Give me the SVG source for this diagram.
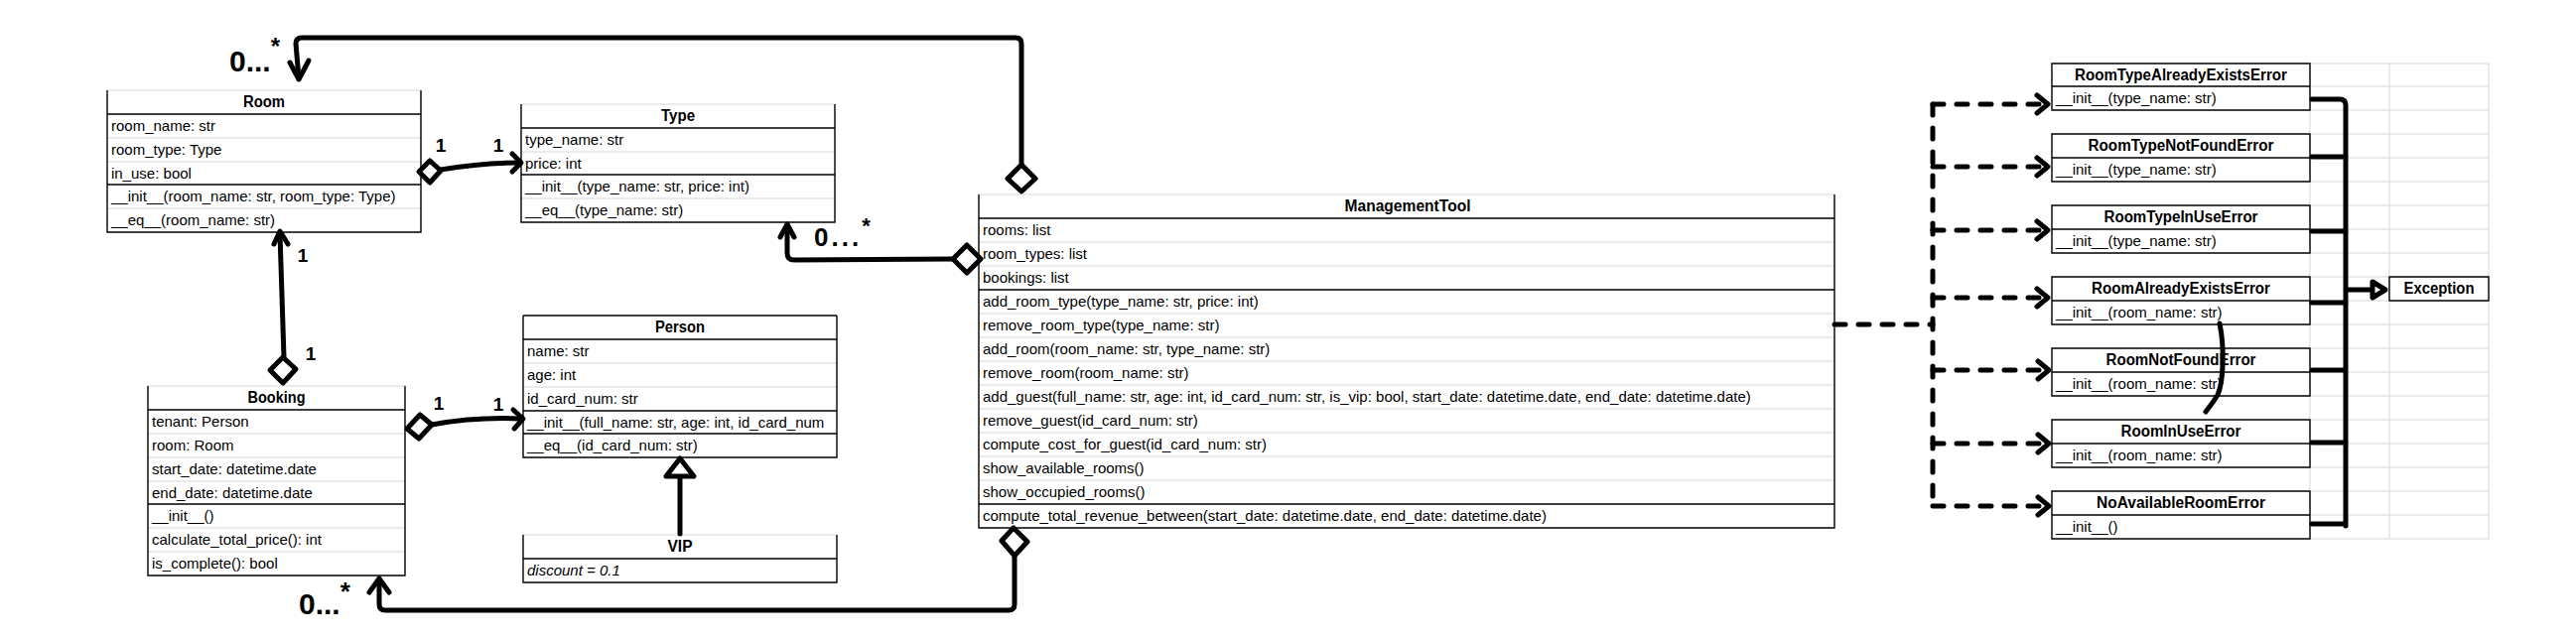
<svg xmlns="http://www.w3.org/2000/svg" width="2595" height="645" viewBox="0 0 2595 645">
<defs>
<style>
.t{font-family:"Liberation Sans",Arial,sans-serif;font-size:15px;fill:#000}
.h{font-family:"Liberation Sans",Arial,sans-serif;font-size:16px;font-weight:bold;text-anchor:middle;fill:#000}
.i{font-style:italic}
.g{stroke:#d6d6d6;stroke-width:1;fill:none}
.k{stroke:#000;stroke-width:1.4;fill:none}
.c{fill:none;stroke:#000;stroke-width:5;stroke-linecap:round;stroke-linejoin:round}
.d{stroke-dasharray:11 13}
.dm{fill:#fff;stroke:#000;stroke-width:5;stroke-linejoin:round}
.hw{font-family:"Liberation Sans",Arial,sans-serif;font-weight:bold;fill:#000}
</style>
<clipPath id="cpP"><rect x="527" y="414" width="316" height="23"/></clipPath>
</defs>
<rect width="2595" height="645" fill="#fff"/>

<g id="grid">
<path class="g" d="M2327,64V543M2407,64V543M2507,64V543M2327,64H2507M2327,87H2507M2327,111H2507M2327,135H2507M2327,159H2507M2327,183H2507M2327,207H2507M2327,231H2507M2327,255H2507M2327,279H2507M2327,303H2507M2327,327H2507M2327,351H2507M2327,375H2507M2327,399H2507M2327,423H2507M2327,447H2507M2327,471H2507M2327,495H2507M2327,519H2507M2327,543H2507"/>
</g>

<g id="room">
<rect x="108" y="91" width="316" height="143" fill="#fff"/>
<path class="g" d="M108,91H424M108,139H424M108,163H424M108,210H424"/>
<path class="k" d="M108,115H424M108,186H424M108,91V234H424V91"/>
<text class="h" x="266" y="108" textLength="42" lengthAdjust="spacingAndGlyphs">Room</text>
<text class="t" x="112" y="132">room_name: str</text>
<text class="t" x="112" y="156">room_type: Type</text>
<text class="t" x="112" y="180">in_use: bool</text>
<text class="t" x="112" y="203">__init__(room_name: str, room_type: Type)</text>
<text class="t" x="112" y="227">__eq__(room_name: str)</text>
</g>

<g id="type">
<rect x="525" y="105" width="316" height="119" fill="#fff"/>
<path class="g" d="M525,105H841M525,153H841M525,200H841"/>
<path class="k" d="M525,129H841M525,176H841M525,105V224H841V105"/>
<text class="h" x="683" y="122" textLength="34" lengthAdjust="spacingAndGlyphs">Type</text>
<text class="t" x="529" y="146">type_name: str</text>
<text class="t" x="529" y="170">price: int</text>
<text class="t" x="529" y="193">__init__(type_name: str, price: int)</text>
<text class="t" x="529" y="217">__eq__(type_name: str)</text>
</g>

<g id="person">
<rect x="527" y="318" width="316" height="143" fill="#fff"/>
<path class="g" d="M527,366H843M527,390H843"/>
<path class="k" d="M527,318H843M527,342H843M527,414H843M527,437H843M527,318V461H843V318"/>
<text class="h" x="685" y="335" textLength="50" lengthAdjust="spacingAndGlyphs">Person</text>
<text class="t" x="531" y="359">name: str</text>
<text class="t" x="531" y="383">age: int</text>
<text class="t" x="531" y="407">id_card_num: str</text>
<text class="t" x="531" y="431" clip-path="url(#cpP)">__init__(full_name: str, age: int, id_card_num</text>
<text class="t" x="531" y="454">__eq__(id_card_num: str)</text>
</g>

<g id="vip">
<rect x="527" y="539" width="316" height="48" fill="#fff"/>
<path class="g" d="M527,539H843"/>
<path class="k" d="M527,563H843M527,539V587H843V539"/>
<text class="h" x="685" y="556" textLength="25" lengthAdjust="spacingAndGlyphs">VIP</text>
<text class="t i" x="531" y="580">discount = 0.1</text>
</g>

<g id="booking">
<rect x="149" y="389" width="259" height="191" fill="#fff"/>
<path class="g" d="M149,389H408M149,437H408M149,461H408M149,485H408M149,532H408M149,556H408"/>
<path class="k" d="M149,413H408M149,508H408M149,389V580H408V389"/>
<text class="h" x="278.5" y="406" textLength="58" lengthAdjust="spacingAndGlyphs">Booking</text>
<text class="t" x="153" y="430">tenant: Person</text>
<text class="t" x="153" y="454">room: Room</text>
<text class="t" x="153" y="478">start_date: datetime.date</text>
<text class="t" x="153" y="502">end_date: datetime.date</text>
<text class="t" x="153" y="525">__init__()</text>
<text class="t" x="153" y="549">calculate_total_price(): int</text>
<text class="t" x="153" y="573">is_complete(): bool</text>
</g>

<g id="managementtool">
<rect x="986" y="196" width="862" height="336" fill="#fff"/>
<path class="g" d="M986,196H1848M986,244H1848M986,268H1848M986,316H1848M986,340H1848M986,364H1848M986,388H1848M986,412H1848M986,436H1848M986,460H1848M986,484H1848"/>
<path class="k" d="M986,220H1848M986,292H1848M986,508H1848M986,196V532H1848V196"/>
<text class="h" x="1418" y="213" textLength="127" lengthAdjust="spacingAndGlyphs">ManagementTool</text>
<text class="t" x="990" y="237">rooms: list</text>
<text class="t" x="990" y="261">room_types: list</text>
<text class="t" x="990" y="285">bookings: list</text>
<text class="t" x="990" y="309">add_room_type(type_name: str, price: int)</text>
<text class="t" x="990" y="333">remove_room_type(type_name: str)</text>
<text class="t" x="990" y="357">add_room(room_name: str, type_name: str)</text>
<text class="t" x="990" y="381">remove_room(room_name: str)</text>
<text class="t" x="990" y="405">add_guest(full_name: str, age: int, id_card_num: str, is_vip: bool, start_date: datetime.date, end_date: datetime.date)</text>
<text class="t" x="990" y="429">remove_guest(id_card_num: str)</text>
<text class="t" x="990" y="453">compute_cost_for_guest(id_card_num: str)</text>
<text class="t" x="990" y="477">show_available_rooms()</text>
<text class="t" x="990" y="501">show_occupied_rooms()</text>
<text class="t" x="990" y="525">compute_total_revenue_between(start_date: datetime.date, end_date: datetime.date)</text>
</g>

<g id="roomtypealreadyexistserror">
<rect x="2067" y="64" width="260" height="47" fill="#fff"/>
<path class="k" d="M2067,64H2327V111H2067ZM2067,87H2327"/>
<text class="h" x="2197" y="81" textLength="214" lengthAdjust="spacingAndGlyphs">RoomTypeAlreadyExistsError</text>
<text class="t" x="2071" y="104">__init__(type_name: str)</text>
</g>
<g id="roomtypenotfounderror">
<rect x="2067" y="135" width="260" height="48" fill="#fff"/>
<path class="k" d="M2067,135H2327V183H2067ZM2067,159H2327"/>
<text class="h" x="2197" y="152" textLength="187" lengthAdjust="spacingAndGlyphs">RoomTypeNotFoundError</text>
<text class="t" x="2071" y="176">__init__(type_name: str)</text>
</g>
<g id="roomtypeinuseerror">
<rect x="2067" y="207" width="260" height="48" fill="#fff"/>
<path class="k" d="M2067,207H2327V255H2067ZM2067,231H2327"/>
<text class="h" x="2197" y="224" textLength="155" lengthAdjust="spacingAndGlyphs">RoomTypeInUseError</text>
<text class="t" x="2071" y="248">__init__(type_name: str)</text>
</g>
<g id="roomalreadyexistserror">
<rect x="2067" y="279" width="260" height="48" fill="#fff"/>
<path class="k" d="M2067,279H2327V327H2067ZM2067,303H2327"/>
<text class="h" x="2197" y="296" textLength="180" lengthAdjust="spacingAndGlyphs">RoomAlreadyExistsError</text>
<text class="t" x="2071" y="320">__init__(room_name: str)</text>
</g>
<g id="roomnotfounderror">
<rect x="2067" y="351" width="260" height="48" fill="#fff"/>
<path class="k" d="M2067,351H2327V399H2067ZM2067,375H2327"/>
<text class="h" x="2197" y="368" textLength="151" lengthAdjust="spacingAndGlyphs">RoomNotFoundError</text>
<text class="t" x="2071" y="392">__init__(room_name: str)</text>
</g>
<g id="roominuseerror">
<rect x="2067" y="423" width="260" height="48" fill="#fff"/>
<path class="k" d="M2067,423H2327V471H2067ZM2067,447H2327"/>
<text class="h" x="2197" y="440" textLength="121" lengthAdjust="spacingAndGlyphs">RoomInUseError</text>
<text class="t" x="2071" y="464">__init__(room_name: str)</text>
</g>
<g id="noavailableroomerror">
<rect x="2067" y="495" width="260" height="48" fill="#fff"/>
<path class="k" d="M2067,495H2327V543H2067ZM2067,519H2327"/>
<text class="h" x="2197" y="512" textLength="170" lengthAdjust="spacingAndGlyphs">NoAvailableRoomError</text>
<text class="t" x="2071" y="536">__init__()</text>
</g>
<g id="exception">
<rect x="2407" y="279" width="100" height="24" fill="#fff"/>
<path class="k" d="M2407,279H2507V303H2407Z"/>
<text class="h" x="2457" y="296" textLength="71" lengthAdjust="spacingAndGlyphs">Exception</text>
</g>

<g id="connectors">
<!-- ManagementTool -> Room -->
<path class="c" d="M1029,166V44Q1029,38 1023,38H304Q298,38 298,44L301,79"/>
<path class="c" d="M292,63L301,80L311,61"/>
<path class="dm" d="M1029,166L1043,180L1029,193L1015,180Z"/>
<text class="hw" x="231" y="72" font-size="30">0...<tspan dy="-17" font-size="24">*</tspan></text>
<!-- ManagementTool -> Type -->
<path class="c" d="M960,261L800,262Q793,262 793,255V228"/>
<path class="c" d="M786,239L793,226L800,239"/>
<path class="dm" d="M960,261L974,247L988,261L974,275Z"/>
<text class="hw" x="820" y="248" font-size="26" letter-spacing="3">0...<tspan dy="-13" font-size="22" letter-spacing="0">*</tspan></text>
<!-- Room -> Type -->
<path class="c" d="M444,171Q485,164 522,164"/>
<path class="c" d="M516,155L525,164L516,173"/>
<path class="dm" d="M422,173L433,162L444,172L433,184Z"/>
<text class="hw" x="444" y="153" font-size="19" text-anchor="middle">1</text>
<text class="hw" x="502" y="153" font-size="19" text-anchor="middle">1</text>
<!-- Booking -> Room -->
<path class="c" d="M286,360L282,235"/>
<path class="c" d="M276,246L282,233L290,246"/>
<path class="dm" d="M285,360L298,372L285,386L272,373Z"/>
<text class="hw" x="305" y="264" font-size="19" text-anchor="middle">1</text>
<text class="hw" x="313" y="363" font-size="19" text-anchor="middle">1</text>
<!-- Booking -> Person -->
<path class="c" d="M435,428Q480,420 524,422"/>
<path class="c" d="M517,413L527,422L518,432"/>
<path class="dm" d="M410,432L423,418L435,428L422,442Z"/>
<text class="hw" x="442" y="413" font-size="19" text-anchor="middle">1</text>
<text class="hw" x="502" y="414" font-size="19" text-anchor="middle">1</text>
<!-- VIP -> Person -->
<path class="c" d="M685,481V538"/>
<path class="dm" d="M685,462L699,480L671,480Z"/>
<!-- ManagementTool -> Booking -->
<path class="c" d="M1022,560V609Q1022,615 1016,615H388Q382,615 382,609V584"/>
<path class="c" d="M372,597L382,583L392,597"/>
<path class="dm" d="M1021,532L1035,546L1022,560L1009,545Z"/>
<text class="hw" x="301" y="619" font-size="30">0...<tspan dy="-14" font-size="26">*</tspan></text>
<!-- ManagementTool -> errors (dashed) -->
<path class="c d" d="M1848,327H1947"/>
<path class="c d" d="M1947,105V512"/>
<path class="c d" d="M1947,105H2058M1947,168H2058M1947,232H2058M1947,300H2058M1947,373H2058M1947,447H2058M1947,510H2058"/>
<path class="c" d="M2052,96L2063,105L2052,114M2052,159L2063,168L2052,177M2052,223L2063,232L2052,241M2052,291L2063,300L2052,309M2053,364L2064,373L2053,382M2053,438L2064,447L2053,456M2053,501L2064,510L2053,519"/>
<!-- errors -> Exception -->
<path class="c" d="M2329,100H2357Q2363,100 2363,106V530M2329,158H2363M2329,233H2363M2329,305H2363M2329,373H2363M2329,446H2363M2329,528H2363M2363,292H2388"/>
<path class="dm" d="M2390,284L2403,292L2390,300Z"/>
<!-- stray stroke -->
<path class="c" d="M2236,326C2241,350 2240,385 2234,398C2228,408 2224,412 2222,415"/>
</g>
</svg>
